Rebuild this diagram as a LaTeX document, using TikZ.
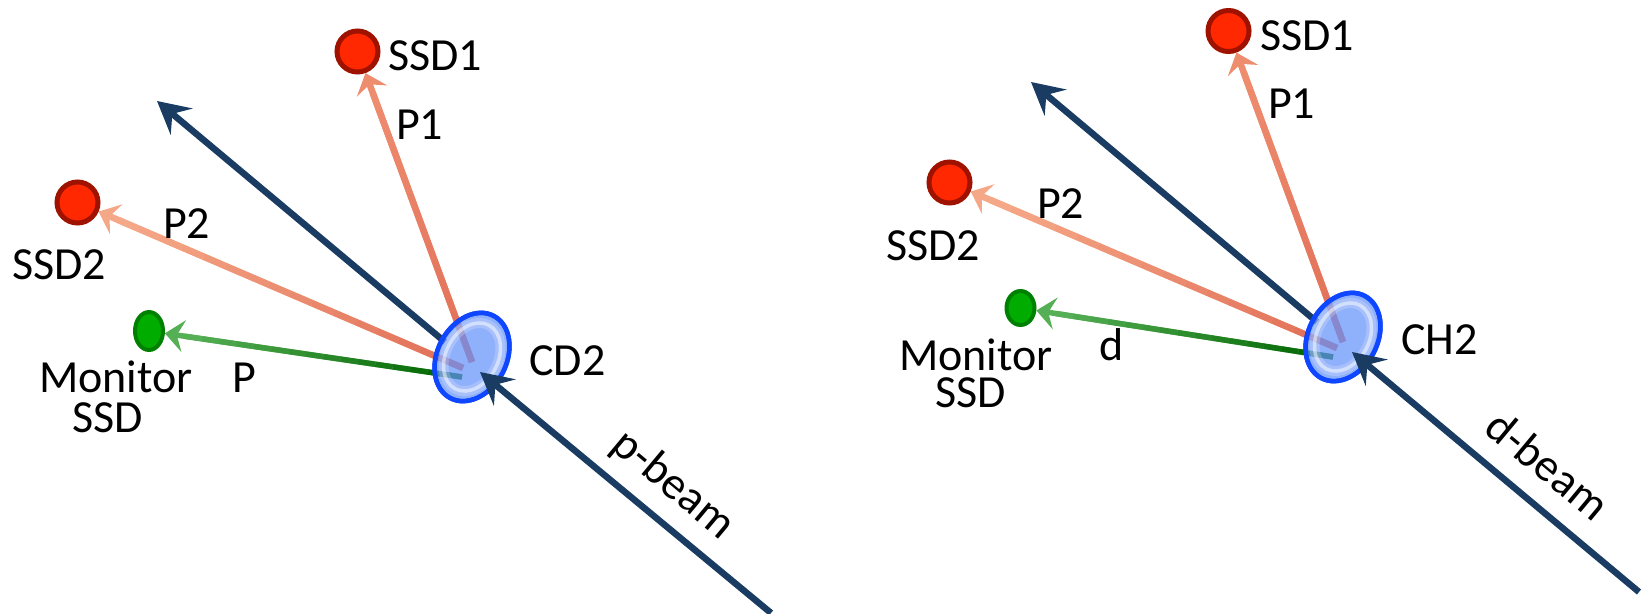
\documentclass[tikz,border=0pt]{standalone}
\usepackage{fontspec}
\setmainfont{Carlito}
\usetikzlibrary{arrows.meta,shapes.geometric,calc}

\definecolor{beamblue}{RGB}{26,60,98}
\definecolor{ssdfill}{RGB}{255,40,0}
\definecolor{ssdborder}{RGB}{160,18,0}
\definecolor{monfill}{RGB}{0,172,0}
\definecolor{monborder}{RGB}{0,128,0}
\definecolor{pA}{RGB}{225,112,88}
\definecolor{pB}{RGB}{238,140,110}
\definecolor{qA}{RGB}{225,112,88}
\definecolor{qB}{RGB}{245,168,135}
\definecolor{gA}{RGB}{0,100,0}
\definecolor{gB}{RGB}{85,175,85}
\definecolor{tgtfill}{RGB}{100,145,250}
\definecolor{tgtborder}{RGB}{15,70,255}

\tikzset{
  lbl/.style={font=\fontsize{46}{54}\selectfont, inner sep=0pt, anchor=base west},
  beamlbl/.style={font=\fontsize{46}{54}\selectfont, inner sep=0pt, anchor=center, rotate=-39.8},
  ssd/.style={circle, draw=ssdborder, fill=ssdfill, line width=5pt, minimum size=41pt, inner sep=0pt},
  mon/.style={ellipse, draw=monborder, fill=monfill, line width=4pt, minimum width=28pt, minimum height=38pt, inner sep=0pt},
  beam/.style={draw=beamblue, line width=6.5pt},
  beamtip/.style={-{Stealth[length=32pt,width=34pt,inset=12pt]}},
  pline/.style={line width=6.5pt},
  gline/.style={line width=5.5pt},
  target/.style={ellipse, fill=tgtfill, fill opacity=0.72, draw=tgtborder, line width=4.5pt, minimum width=93pt, minimum height=69pt, inner sep=0pt, rotate=62},
}

% gradient arrow: #1 start, #2 end node, #3 colour at start, #4 colour at tip, #5 style, #6 distance from node centre where gradient stops
\newcommand{\gradarrow}[6]{%
  \draw[#5, draw=#4, -{Stealth[length=19pt,width=32pt,inset=7pt,fill=#4]}] (#1) -- (#2);
  \coordinate (gEnd) at ($(#2)!#6!(#1)$);
  \foreach \i in {0,...,15}{%
    \pgfmathsetmacro\pa{\i/16}%
    \pgfmathsetmacro\pb{(\i+1)/16}%
    \pgfmathsetmacro\pc{100*\i/15}%
    \draw[#5, draw=#4!\pc!#3] ($(#1)!\pa!(gEnd)$) -- ($(#1)!\pb!(gEnd)$);
  }%
}
\newcommand{\tgtring}[1]{%
  \draw[white, opacity=0.22, line width=10pt, rotate around={62:(#1)}] (#1) ellipse [x radius=36, y radius=26];
  \draw[white, opacity=0.5, line width=3.5pt, rotate around={62:(#1)}] (#1) ellipse [x radius=36, y radius=26];
}

\begin{document}
\begin{tikzpicture}[x=1pt,y=-1pt]
\useasboundingbox (0,0) rectangle (1646,613);

% ---------------- left panel ----------------
\node[ssd] (L1) at (357.5,51.5) {};
\node[ssd] (L2) at (77.5,202.5) {};
\node[mon] (LM) at (149,331) {};
\coordinate (Lc) at (472,357);
\coordinate (Lo) at (445,342);
\coordinate (Lp1) at (472,362);
\coordinate (Lp2) at (463,368);
\coordinate (Lg) at (462,377);
\coordinate (Lt) at (480,372);
\coordinate (Lb) at (771,613);
\coordinate (Lout) at (157,101);

\draw[beam, beamtip] (Lo) -- (Lout);
\gradarrow{Lp1}{L1}{pA}{pB}{pline}{44pt}
\gradarrow{Lp2}{L2}{qA}{qB}{pline}{44pt}
\gradarrow{Lg}{LM}{gA}{gB}{gline}{36pt}

\node[target] (LT) at (Lc) {};
\tgtring{Lc}
\draw[tgtborder, line width=4.5pt, rotate around={62:(Lc)}] (Lc) ellipse [x radius=46.5, y radius=34.5];

\draw[beam, beamtip] (Lb) -- (Lt);

\node[lbl] (L1t) at (388,70) {SSD1};
\node[lbl] (L1p) at (396,139) {P1};
\node[lbl] (L2t) at (12,279) {SSD2};
\node[lbl] (L2p) at (163,238) {P2};
\node[lbl] (LMa) at (39,392) {Monitor};
\node[lbl] (LMb) at (72,432) {SSD};
\node[lbl] (LP) at (232,392) {P};
\node[lbl] (LCD) at (529,375) {CD2};
\node[beamlbl] (Lbeam) at (673,485) {p-beam};

% ---------------- right panel ----------------
\node[ssd] (R1) at (1228.5,31) {};
\node[ssd] (R2) at (949.5,182.5) {};
\node[mon, minimum height=34pt] (RM) at (1020.5,308) {};
\coordinate (Rc) at (1343,337);
\coordinate (Ro) at (1317,322);
\coordinate (Rp1) at (1343,342);
\coordinate (Rp2) at (1337,348);
\coordinate (Rg) at (1333,357);
\coordinate (Rt) at (1352,352);
\coordinate (Rb) at (1639,592);
\coordinate (Rout) at (1031,82);

\draw[beam, beamtip] (Ro) -- (Rout);
\gradarrow{Rp1}{R1}{pA}{pB}{pline}{44pt}
\gradarrow{Rp2}{R2}{qA}{qB}{pline}{44pt}
\gradarrow{Rg}{RM}{gA}{gB}{gline}{36pt}

\node[target] (RT) at (Rc) {};
\tgtring{Rc}
\draw[tgtborder, line width=4.5pt, rotate around={62:(Rc)}] (Rc) ellipse [x radius=46.5, y radius=34.5];

\draw[beam, beamtip] (Rb) -- (Rt);

\node[lbl] (R1t) at (1260,50) {SSD1};
\node[lbl] (R1p) at (1268,118) {P1};
\node[lbl] (R2t) at (886,260) {SSD2};
\node[lbl] (R2p) at (1037,218) {P2};
\node[lbl] (RMa) at (899,370) {Monitor};
\node[lbl] (RMb) at (935,407) {SSD};
\node[lbl] (Rd) at (1099,360) {d};
\node[lbl] (RCH) at (1401,354) {CH2};
\node[beamlbl] (Rbeam) at (1548,465) {d-beam};
\end{tikzpicture}
\end{document}
